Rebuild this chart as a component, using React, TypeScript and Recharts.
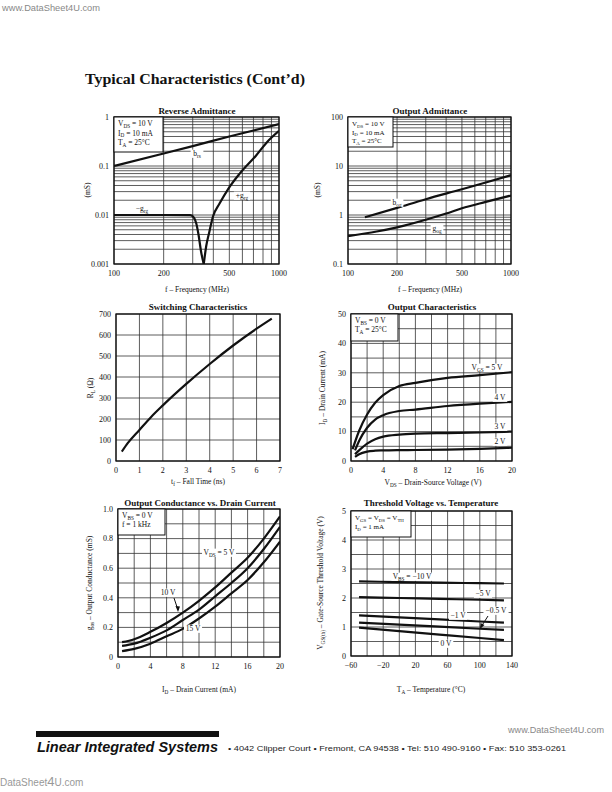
import React from 'react';
import { LineChart, Line, XAxis, YAxis, CartesianGrid } from 'recharts';

// Reverse admittance (mS) vs frequency (MHz)
const raBrsFreq = [100, 200, 300, 500, 700, 1000];
const raBrs = [0.1, 0.18, 0.255, 0.4, 0.53, 0.72];
const raNegGrgFreq = [100, 200, 290, 305, 315, 324, 338, 350];
const raNegGrg = [0.01, 0.01, 0.0099, 0.0088, 0.0068, 0.0043, 0.0017, 0.001];
const raPosGrgFreq = [350, 362, 377, 398, 437, 495, 578, 729, 838, 1000];
const raPosGrg = [0.001, 0.0023, 0.0043, 0.0093, 0.0173, 0.035, 0.07, 0.166, 0.296, 0.52];

// Output admittance (mS) vs frequency (MHz)
const oaBogFreq = [127, 200, 300, 500, 700, 1000];
const oaBog = [0.9, 1.4, 2.1, 3.35, 4.6, 6.5];
const oaGogFreq = [100, 150, 200, 300, 400, 500, 700, 1000];
const oaGog = [0.37, 0.46, 0.56, 0.8, 1.07, 1.37, 1.85, 2.5];

// Switching characteristics: RL (ohm) vs fall time (ns)
const swFall = [0.25, 0.5, 1, 1.5, 2, 3, 4, 5, 6, 6.65];
const swRl = [45, 85, 148, 210, 265, 367, 462, 550, 630, 678];

// Output characteristics: ID (mA) vs VDS (V)
const ocVds5 = [0.2, 1, 2, 3, 4, 6, 8, 12, 16, 20];
const ocVds = [0.5, 1, 2, 3, 4, 6, 8, 12, 16, 20];
const ocVgs5 = [4, 10.2, 15.8, 19.8, 22.4, 25.5, 26.6, 28.3, 29.2, 30.2];
const ocVgs4 = [3.6, 6.8, 11.3, 14.1, 15.6, 17, 17.5, 18.7, 19.5, 20.1];
const ocVgs3 = [2.3, 3.6, 5.9, 7.4, 8.3, 9, 9.3, 9.5, 9.7, 10];
const ocVgs2 = [1.4, 2.3, 3.2, 3.5, 3.6, 3.7, 3.75, 3.85, 4.1, 4.5];

// Output conductance (mS) vs drain current (mA)
const gcId = [0.5, 2, 4, 6, 8, 10, 12, 14, 16, 18, 20];
const gcVds5 = [0.1, 0.12, 0.17, 0.23, 0.3, 0.38, 0.47, 0.57, 0.67, 0.8, 0.95];
const gcVds10 = [0.075, 0.09, 0.13, 0.18, 0.25, 0.32, 0.41, 0.5, 0.6, 0.73, 0.88];
const gcVds15 = [0.04, 0.055, 0.09, 0.14, 0.19, 0.26, 0.34, 0.43, 0.52, 0.64, 0.78];

// Threshold voltage (V) vs temperature (C)
const tvTemp = [-50, 0, 50, 100, 130];
const tvVbs10 = [2.57, 2.55, 2.53, 2.51, 2.5];
const tvVbs5 = [2.03, 2.0, 1.97, 1.94, 1.92];
const tvVbs1 = [1.4, 1.33, 1.26, 1.19, 1.15];
const tvVbs05 = [1.15, 1.08, 1.01, 0.94, 0.9];
const tvVbs0 = [0.98, 0.86, 0.74, 0.62, 0.55];

type Pt = { x: number; y: number };
const zip = (xs: number[], ys: number[]): Pt[] => xs.map((x, i) => ({ x, y: ys[i] }));
const steps = (a: number, b: number, s: number) => {
  const out: number[] = [];
  for (let i = 0; a + i * s <= b + 1e-9; i++) out.push(Math.round((a + i * s) * 1000) / 1000);
  return out;
};
const logGrid = (lo: number, hi: number) => {
  const out: number[] = [];
  for (let d = lo; d < hi * 0.999; d *= 10) for (let k = 1; k < 10; k++) out.push(+(d * k).toPrecision(3));
  out.push(hi);
  return out;
};

const serif = '"Liberation Serif", "Times New Roman", serif';
const sans = '"Liberation Sans", Arial, sans-serif';
const tickStyle = { fontSize: 8, fill: '#111', fontFamily: serif };

type Box = { x: number; y: number; w: number; h: number };
type AxisCfg = { domain: [number, number]; ticks: number[]; grid: number[]; log?: boolean; fmt?: (v: number) => string };

const YW = 36;
const XH = 22;
const MT = 8;
const MR = 16;

function Panel({ box, xa, ya, series }: { box: Box; xa: AxisCfg; ya: AxisCfg; series: Pt[][] }) {
  return (
    <div style={{ position: 'absolute', left: box.x - YW, top: box.y - MT }}>
      <LineChart width={box.w + YW + MR} height={box.h + XH + MT} margin={{ top: MT, right: MR, bottom: 0, left: 0 }}>
        <CartesianGrid stroke="#333" strokeWidth={0.8} verticalValues={xa.grid} horizontalValues={ya.grid} />
        <XAxis
          type="number"
          dataKey="x"
          scale={xa.log ? 'log' : 'linear'}
          domain={xa.domain}
          ticks={xa.ticks}
          interval={0}
          allowDataOverflow
          axisLine={false}
          tickLine={false}
          tickSize={4}
          tickMargin={2}
          height={XH}
          tick={tickStyle}
          tickFormatter={xa.fmt}
        />
        <YAxis
          type="number"
          scale={ya.log ? 'log' : 'linear'}
          domain={ya.domain}
          ticks={ya.ticks}
          interval={0}
          allowDataOverflow
          axisLine={false}
          tickLine={false}
          tickSize={2}
          tickMargin={3}
          width={YW}
          tick={tickStyle}
          tickFormatter={ya.fmt}
        />
        {series.map((s, i) => (
          <Line
            key={i}
            data={s}
            dataKey="y"
            type="monotone"
            stroke="#111"
            strokeWidth={2.2}
            dot={false}
            isAnimationActive={false}
          />
        ))}
      </LineChart>
    </div>
  );
}

// text with V_{DS} style subscripts
function RT({ x, y, s, size = 8, anchor = 'start', bold = false, rot = false, bg = false, family = serif, fill = '#111' }: any) {
  const segs: string[] = s.split(/(_\{[^}]*\})/).filter((p: string) => p !== '');
  const sub = size * 0.7;
  const shift = size * 0.22;
  let down = false;
  let w = 0;
  const kids = segs.map((p, i) => {
    if (p.startsWith('_{')) {
      const t = p.slice(2, -1);
      w += t.length * sub * 0.5;
      const el = (
        <tspan key={i} fontSize={sub} dy={down ? 0 : shift}>
          {t}
        </tspan>
      );
      down = true;
      return el;
    }
    w += p.length * size * 0.47;
    const el = (
      <tspan key={i} dy={down ? -shift : 0}>
        {p}
      </tspan>
    );
    down = false;
    return el;
  });
  const bw = w + 4;
  const bx = anchor === 'middle' ? x - bw / 2 : anchor === 'end' ? x - bw + 2 : x - 2;
  return (
    <g>
      {bg && <rect x={bx} y={y - size * 0.85} width={bw} height={size * 1.1} fill="#fff" />}
      <text
        x={x}
        y={y}
        fontSize={size}
        fontFamily={family}
        fontWeight={bold ? 'bold' : 'normal'}
        textAnchor={anchor}
        fill={fill}
        transform={rot ? `rotate(-90 ${x} ${y})` : undefined}
      >
        {kids}
      </text>
    </g>
  );
}

function CondBox({ x, y, w, h, lines, dy = 9, size = 7.5 }: { x: number; y: number; w: number; h: number; lines: string[]; dy?: number; size?: number }) {
  return (
    <g>
      <rect x={x} y={y} width={w} height={h} fill="#fff" stroke="#111" strokeWidth={1} />
      {lines.map((l, i) => (
        <RT key={i} x={x + 4} y={y + 9 + i * dy} s={l} size={size} />
      ))}
    </g>
  );
}

const P1: Box = { x: 114, y: 117, w: 165, h: 147 };
const P2: Box = { x: 348, y: 117, w: 163, h: 147 };
const P3: Box = { x: 116, y: 314, w: 164, h: 147 };
const P4: Box = { x: 351, y: 314, w: 161, h: 147 };
const P5: Box = { x: 118, y: 509, w: 162, h: 148 };
const P6: Box = { x: 351, y: 511, w: 161, h: 145 };

const freqAxis: AxisCfg = { domain: [100, 1000], ticks: [100, 200, 500, 1000], grid: steps(100, 1000, 100), log: true };
const minus = (v: number) => (v < 0 ? '\u2212' + Math.abs(v) : String(v));

export default function App() {
  const frames = [P1, P2, P3, P4, P5, P6];
  return (
    <div style={{ position: 'absolute', left: 0, top: 0, width: 612, height: 792, background: '#fff', overflow: 'hidden' }}>
      <Panel
        box={P1}
        xa={freqAxis}
        ya={{ domain: [0.001, 1], ticks: [0.001, 0.01, 0.1, 1], grid: logGrid(0.001, 1), log: true, fmt: (v) => String(v) }}
        series={[zip(raBrsFreq, raBrs), zip(raNegGrgFreq, raNegGrg), zip(raPosGrgFreq, raPosGrg)]}
      />
      <Panel
        box={P2}
        xa={freqAxis}
        ya={{ domain: [0.1, 100], ticks: [0.1, 1, 10, 100], grid: logGrid(0.1, 100), log: true, fmt: (v) => String(v) }}
        series={[zip(oaBogFreq, oaBog), zip(oaGogFreq, oaGog)]}
      />
      <Panel
        box={P3}
        xa={{ domain: [0, 7], ticks: steps(0, 7, 1), grid: steps(0, 7, 1) }}
        ya={{ domain: [0, 700], ticks: steps(0, 700, 100), grid: steps(0, 700, 100) }}
        series={[zip(swFall, swRl)]}
      />
      <Panel
        box={P4}
        xa={{ domain: [0, 20], ticks: steps(0, 20, 4), grid: steps(0, 20, 2) }}
        ya={{ domain: [0, 50], ticks: steps(0, 50, 10), grid: steps(0, 50, 5) }}
        series={[zip(ocVds5, ocVgs5), zip(ocVds, ocVgs4), zip(ocVds, ocVgs3), zip(ocVds, ocVgs2)]}
      />
      <Panel
        box={P5}
        xa={{ domain: [0, 20], ticks: steps(0, 20, 4), grid: steps(0, 20, 2) }}
        ya={{ domain: [0, 1], ticks: steps(0, 1, 0.2), grid: steps(0, 1, 0.1), fmt: (v) => (v === 0 ? '0' : v.toFixed(1)) }}
        series={[zip(gcId, gcVds5), zip(gcId, gcVds10), zip(gcId, gcVds15)]}
      />
      <Panel
        box={P6}
        xa={{ domain: [-60, 140], ticks: steps(-60, 140, 40), grid: steps(-60, 140, 20), fmt: minus }}
        ya={{ domain: [0, 5], ticks: steps(0, 5, 1), grid: steps(0, 5, 0.5) }}
        series={[zip(tvTemp, tvVbs10), zip(tvTemp, tvVbs5), zip(tvTemp, tvVbs1), zip(tvTemp, tvVbs05), zip(tvTemp, tvVbs0)]}
      />

      <svg width={612} height={792} style={{ position: 'absolute', left: 0, top: 0, pointerEvents: 'none' }}>
        {frames.map((b, i) => (
          <rect key={i} x={b.x} y={b.y} width={b.w} height={b.h} fill="none" stroke="#111" strokeWidth={1.3} />
        ))}

        {/* header */}
        <text x={2} y={11} fontSize={9} fontFamily={sans} fill="#888" textLength={98} lengthAdjust="spacingAndGlyphs">
          www.DataSheet4U.com
        </text>
        <text x={85} y={84} fontSize={15} fontFamily={serif} fontWeight="bold" fill="#111" textLength={220} lengthAdjust="spacingAndGlyphs">
          Typical Characteristics (Cont’d)
        </text>

        {/* titles */}
        <RT x={197} y={114} s="Reverse Admittance" size={9} anchor="middle" bold />
        <RT x={430} y={114} s="Output Admittance" size={9} anchor="middle" bold />
        <RT x={198} y={310} s="Switching Characteristics" size={9} anchor="middle" bold />
        <RT x={432} y={310} s="Output Characteristics" size={9} anchor="middle" bold />
        <RT x={200} y={506} s="Output Conductance vs. Drain Current" size={9} anchor="middle" bold />
        <RT x={431} y={506} s="Threshold Voltage vs. Temperature" size={9} anchor="middle" bold />

        {/* x axis labels */}
        <RT x={197} y={292} s="f – Frequency (MHz)" size={7.5} anchor="middle" />
        <RT x={430} y={292} s="f – Frequency (MHz)" size={7.5} anchor="middle" />
        <RT x={198} y={484} s="t_{f} – Fall Time (ns)" size={7.5} anchor="middle" />
        <RT x={433} y={485} s="V_{DS} – Drain-Source Voltage (V)" size={7.5} anchor="middle" />
        <RT x={199} y={692} s="I_{D} – Drain Current (mA)" size={7.5} anchor="middle" />
        <RT x={431} y={692} s="T_{A} – Temperature (°C)" size={7.5} anchor="middle" />

        {/* y axis labels */}
        <RT x={90} y={190} s="(mS)" size={7.5} anchor="middle" rot />
        <RT x={320} y={190} s="(mS)" size={7.5} anchor="middle" rot />
        <RT x={93} y={388} s="R_{L} (Ω)" size={7.5} anchor="middle" rot />
        <RT x={325} y={388} s="I_{D} – Drain Current (mA)" size={7.5} anchor="middle" rot />
        <RT x={92} y={583} s="g_{os} – Output Conductance (mS)" size={7.5} anchor="middle" rot />
        <RT x={323} y={583} s="V_{GS(th)} – Gate-Source Threshold Voltage (V)" size={7.5} anchor="middle" rot />

        {/* condition boxes */}
        <CondBox x={114} y={117} w={49} h={35} lines={['V_{DS} = 10 V', 'I_{D} = 10 mA', 'T_{A} = 25°C']} dy={9.5} />
        <CondBox x={348} y={117} w={45} h={30} lines={['V_{DS} = 10 V', 'I_{D} = 10 mA', 'T_{A} = 25°C']} dy={8.6} size={7} />
        <CondBox x={351} y={314} w={47} h={27} lines={['V_{BS} = 0 V', 'T_{A} = 25°C']} />
        <CondBox x={118} y={509} w={47} h={26} lines={['V_{BS} = 0 V', 'f = 1 kHz']} />
        <CondBox x={351} y={511} w={60} h={26} lines={['V_{GS} = V_{DS} = V_{TH}', 'I_{D} = 1 mA']} dy={9} size={7} />

        {/* curve labels */}
        <RT x={197} y={156} s="b_{rs}" size={7.5} anchor="middle" bg />
        <RT x={242} y={198} s="+g_{rg}" size={7.5} anchor="middle" bg />
        <RT x={142} y={211} s="−g_{rg}" size={7.5} anchor="middle" bg />

        <RT x={397} y={205} s="b_{og}" size={7.5} anchor="middle" bg />
        <RT x={437} y={231} s="g_{og}" size={7.5} anchor="middle" bg />

        <RT x={487} y={370} s="V_{GS} = 5 V" size={7.5} anchor="middle" bg />
        <RT x={500} y={400} s="4 V" size={7.5} anchor="middle" bg />
        <RT x={500} y={429} s="3 V" size={7.5} anchor="middle" bg />
        <RT x={500} y={444} s="2 V" size={7.5} anchor="middle" bg />

        <RT x={219} y={555} s="V_{DS} = 5 V" size={7.5} anchor="middle" bg />
        <RT x={168} y={595} s="10 V" size={7.5} anchor="middle" bg />
        <line x1={174} y1={598} x2={178} y2={610} stroke="#111" strokeWidth={1} />
        <polygon points="178,612 175.5,606 180,606.5" fill="#111" />
        <RT x={193} y={631} s="15 V" size={7.5} anchor="middle" bg />

        <RT x={412} y={579} s="V_{BS} = −10 V" size={7.5} anchor="middle" bg />
        <RT x={483} y={596} s="−5 V" size={7.5} anchor="middle" bg />
        <RT x={458} y={618} s="−1 V" size={7.5} anchor="middle" bg />
        <RT x={496} y={613} s="−0.5 V" size={7.5} anchor="middle" bg />
        <line x1={488} y1={616} x2={481} y2={627} stroke="#111" strokeWidth={1} />
        <polygon points="480,629 480.5,623 484.5,625" fill="#111" />
        <RT x={446} y={646} s="0 V" size={7.5} anchor="middle" bg />

        {/* footer */}
        <text x={508} y={733} fontSize={8.5} fontFamily={sans} fill="#888" textLength={96} lengthAdjust="spacingAndGlyphs">
          www.DataSheet4U.com
        </text>
        <rect x={36} y={731} width={183} height={6} fill="#111" />
        <text x={37} y={752} fontSize={15} fontFamily={sans} fontWeight="bold" fontStyle="italic" fill="#111" textLength={181} lengthAdjust="spacingAndGlyphs">
          Linear Integrated Systems
        </text>
        <text x={228} y={751} fontSize={7} fontFamily={sans} fill="#222" textLength={338} lengthAdjust="spacingAndGlyphs">
          • 4042 Clipper Court • Fremont, CA 94538 • Tel: 510 490-9160 • Fax: 510 353-0261
        </text>
        <text x={0} y={786} fontSize={10} fontFamily={sans} fill="#999">
          DataSheet<tspan fontSize={13}>4</tspan>U.com
        </text>
      </svg>
    </div>
  );
}
